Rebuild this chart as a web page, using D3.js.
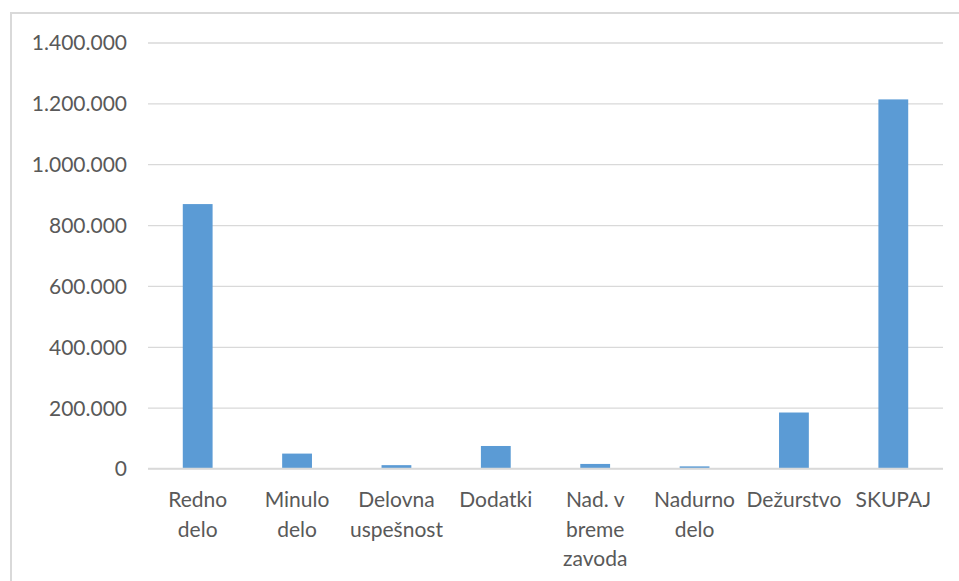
<!DOCTYPE html>
<html>
<head>
<meta charset="utf-8">
<script src="https://cdn.jsdelivr.net/npm/d3@7"></script>
<style>
  html, body { margin: 0; padding: 0; background: #fff; }
  svg { display: block; }
  text { font-family: Lato, "Open Sans", sans-serif; fill: #595959; }
</style>
</head>
<body>
<svg id="chart" width="959" height="581"></svg>
<script>
// Salary components (EUR)
const categories = ["Redno\ndelo", "Minulo\ndelo", "Delovna\nuspešnost", "Dodatki",
                    "Nad. v\nbreme\nzavoda", "Nadurno\ndelo", "Dežurstvo", "SKUPAJ"];
const values = [869000, 49000, 11000, 74000, 15000, 7000, 184000, 1213000];
const yTicks = [0, 200000, 400000, 600000, 800000, 1000000, 1200000, 1400000];
const yTickLabels = ["0", "200.000", "400.000", "600.000", "800.000", "1.000.000", "1.200.000", "1.400.000"];

const svg = d3.select("#chart");
const W = 959, H = 581;
const plot = { left: 148, right: 943, top: 42.5, bottom: 468.5 };

// outer frame (left and top edges visible)
svg.append("path")
  .attr("d", `M11,${H} L11,13 L${W},13`)
  .attr("fill", "none")
  .attr("stroke", "#d9d9d9")
  .attr("stroke-width", 2);

const x = d3.scaleBand()
  .domain(categories)
  .range([plot.left, plot.right])
  .paddingInner(0.7)
  .paddingOuter(0.35);

const y = d3.scaleLinear()
  .domain([0, 1400000])
  .range([plot.bottom, plot.top]);

// horizontal gridlines and y labels
const yAxis = d3.axisLeft(y)
  .tickValues(yTicks)
  .tickSize(-(plot.right - plot.left))
  .tickPadding(21)
  .tickFormat((d, i) => yTickLabels[i]);

const gy = svg.append("g")
  .attr("transform", `translate(${plot.left},0)`)
  .call(yAxis);
gy.select(".domain").remove();
gy.selectAll(".tick line").attr("stroke", "#d9d9d9").attr("stroke-width", 1.3);
gy.selectAll(".tick text")
  .attr("font-size", 21)
  .attr("dy", "0.35em");

// bars
svg.append("g").selectAll("rect")
  .data(values)
  .join("rect")
  .attr("x", (d, i) => x(categories[i]))
  .attr("width", x.bandwidth())
  .attr("y", d => y(d))
  .attr("height", d => y(0) - y(d))
  .attr("fill", "#5b9bd5");

// baseline
svg.append("line")
  .attr("x1", plot.left).attr("x2", plot.right)
  .attr("y1", y(0)).attr("y2", y(0))
  .attr("stroke", "#d9d9d9").attr("stroke-width", 1.5);

// category labels (wrapped)
const lab = svg.append("g").selectAll("text")
  .data(categories)
  .join("text")
  .attr("text-anchor", "middle")
  .attr("font-size", 21)
  .attr("x", d => x(d) + x.bandwidth() / 2)
  .attr("y", 507);
lab.each(function (d) {
  const t = d3.select(this);
  d.split("\n").forEach((line, k) => {
    t.append("tspan")
      .attr("x", x(d) + x.bandwidth() / 2)
      .attr("dy", k === 0 ? 0 : 29.5)
      .text(line);
  });
});
</script>
</body>
</html>
